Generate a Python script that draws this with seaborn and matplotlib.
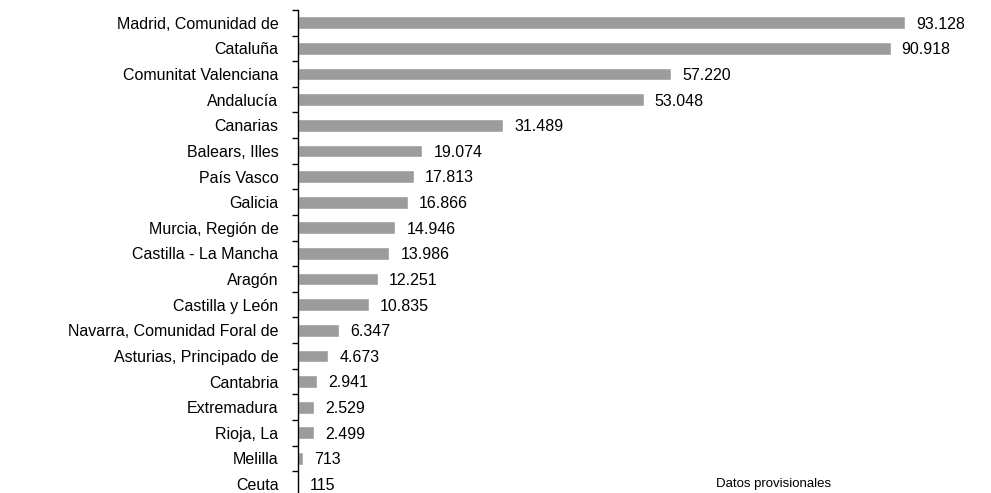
import numpy as np
import pandas as pd
import matplotlib
matplotlib.use("Agg")
import matplotlib.pyplot as plt
import seaborn as sns

regions = ["Madrid, Comunidad de", "Cataluña", "Comunitat Valenciana", "Andalucía",
           "Canarias", "Balears, Illes", "País Vasco", "Galicia", "Murcia, Región de",
           "Castilla - La Mancha", "Aragón", "Castilla y León",
           "Navarra, Comunidad Foral de", "Asturias, Principado de", "Cantabria",
           "Extremadura", "Rioja, La", "Melilla", "Ceuta"]
values = [93128, 90918, 57220, 53048, 31489, 19074, 17813, 16866, 14946,
          13986, 12251, 10835, 6347, 4673, 2941, 2529, 2499, 713, 115]
note = "Datos provisionales"

df = pd.DataFrame({"region": regions, "value": values})

sns.set_style("white")
plt.rcParams["font.family"] = ["Liberation Sans", "DejaVu Sans"]
plt.rcParams["text.color"] = "black"
plt.rcParams["ytick.color"] = "black"

fig = plt.figure(figsize=(9.91, 4.93), dpi=100)
ax = fig.add_axes([298 / 991, 0, 693 / 991, 1 - 10 / 493])

sns.barplot(data=df, x="value", y="region", orient="h", color="#9c9c9c",
            saturation=1, width=0.5, ax=ax)

ax.set_xlim(0, 93128 * 693 / 607)
ax.set_ylim(18 + 9 / 25.7, -0.5)

for i, v in enumerate(values):
    ax.annotate(f"{v:,}".replace(",", "."), xy=(v, i), xytext=(8, -1),
                textcoords="offset points", va="center", ha="left", fontsize=11.5)

fig.text(716 / 991, 1 - 484 / 493, note, fontsize=9.5, va="center", ha="left")

ax.set_xlabel("")
ax.set_ylabel("")
ax.set_xticks([])
for s in ["top", "right", "bottom"]:
    ax.spines[s].set_visible(False)
ax.spines["left"].set_color("black")
ax.spines["left"].set_linewidth(1.0)
ax.tick_params(axis="y", which="major", left=False, length=0, pad=14,
               labelsize=11.5, labelcolor="black")
ax.set_yticks(np.arange(-0.5, len(regions) - 0.5, 1), minor=True)
ax.tick_params(axis="y", which="minor", left=True, length=4, width=1,
               direction="out", color="black")

fig.savefig("out.png", dpi=100)
